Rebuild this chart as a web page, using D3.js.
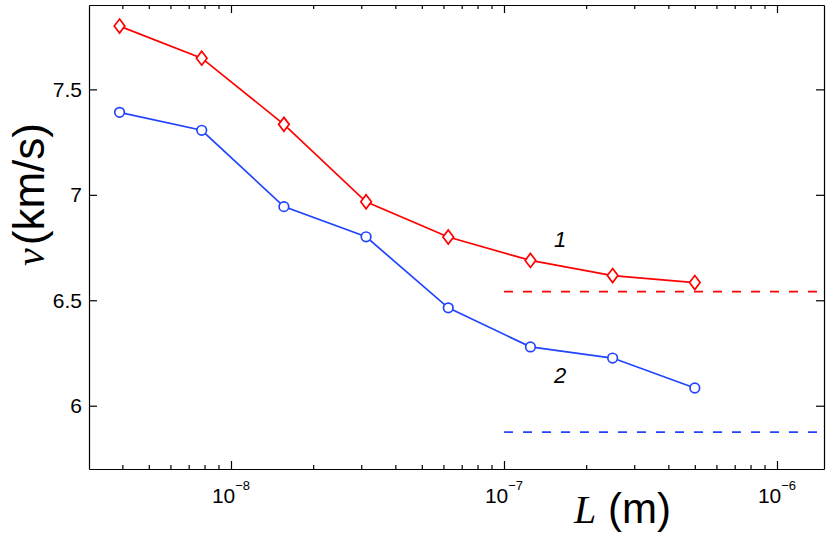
<!DOCTYPE html>
<html>
<head>
<meta charset="utf-8">
<script src="https://cdn.jsdelivr.net/npm/d3@7"></script>
<style>
body { margin: 0; background: #fff; }
text { font-family: "Liberation Sans", Arial, sans-serif; }
.axis path, .axis line { stroke: #000; stroke-width: 1.2; }
</style>
</head>
<body>
<div id="chart"></div>
<script>
const width = 830
const height = 541
const margin = {top: 5, bottom: 72, left: 89, right: 6}

// data
const lengths = [3.90625e-9, 7.8125e-9, 1.5625e-8, 3.125e-8, 6.25e-8, 1.25e-7, 2.5e-7, 5e-7]
const speed1 = [7.80, 7.648, 7.334, 6.967, 6.800, 6.689, 6.617, 6.584]
const speed2 = [7.391, 7.306, 6.944, 6.801, 6.464, 6.279, 6.226, 6.084]
const limits = [6.541, 5.875]
const limitStart = 1e-7
const yTicks = [6, 6.5, 7, 7.5]
const xTicks = [1e-8, 1e-7, 1e-6]
const xExponents = ["−8", "−7", "−6"]
const curveLabels = ["1", "2"]

const colors = ["#ff0000", "#2244ff"]

const svg = d3.select("#chart").append("svg").attr("width", width).attr("height", height)

const innerW = width - margin.left - margin.right
const innerH = height - margin.top - margin.bottom

let x = d3.scaleLog().domain([Math.pow(10, -8.5201), Math.pow(10, -5.8278)]).range([0, innerW])
let y = d3.scaleLinear().domain([5.7, 7.9]).range([innerH, 0])

const plot = svg.append("g").attr("transform", `translate(${margin.left}, ${margin.top})`)

// minor ticks on log axis
let minorTicks = []
for (let e = -9; e <= -6; e++) {
    for (let m = 2; m <= 9; m++) {
        let v = m * Math.pow(10, e)
        if (v > x.domain()[0] && v < x.domain()[1]) minorTicks.push(v)
    }
}

// bottom + top axes
const xAxisGroup = plot.append("g").attr("class", "axis").attr("transform", `translate(0, ${innerH})`)
xAxisGroup.call(d3.axisBottom(x).tickValues(xTicks).tickSizeInner(-8).tickSizeOuter(0).tickFormat(""))
xAxisGroup.append("g").call(d3.axisBottom(x).tickValues(minorTicks).tickSizeInner(-4).tickSizeOuter(0).tickFormat(""))
    .select(".domain").remove()

const topGroup = plot.append("g").attr("class", "axis")
topGroup.call(d3.axisTop(x).tickValues(xTicks).tickSizeInner(-8).tickSizeOuter(0).tickFormat(""))
topGroup.append("g").call(d3.axisTop(x).tickValues(minorTicks).tickSizeInner(-4).tickSizeOuter(0).tickFormat(""))
    .select(".domain").remove()

// x tick labels with superscripts
xTicks.forEach((t, i) => {
    let label = xAxisGroup.append("text")
        .attr("x", x(t))
        .attr("y", 34)
        .attr("text-anchor", "middle")
        .attr("fill", "#000")
        .attr("font-size", 21)
    label.append("tspan").text("10")
    label.append("tspan").attr("dy", -13).attr("font-size", 13).text(xExponents[i])
})

// left + right axes
const yAxisGroup = plot.append("g").attr("class", "axis")
yAxisGroup.call(d3.axisLeft(y).tickValues(yTicks).tickSizeInner(-8).tickSizeOuter(0).tickPadding(7).tickFormat(d => d))
yAxisGroup.selectAll("text").attr("font-size", 21).attr("fill", "#000")

const rightGroup = plot.append("g").attr("class", "axis").attr("transform", `translate(${innerW}, 0)`)
rightGroup.call(d3.axisRight(y).tickValues(yTicks).tickSizeInner(-8).tickSizeOuter(0).tickFormat(""))

// asymptote lines
limits.forEach((v, i) => {
    plot.append("line")
        .attr("x1", x(limitStart)).attr("x2", innerW)
        .attr("y1", y(v)).attr("y2", y(v))
        .attr("stroke", colors[i])
        .attr("stroke-width", 1.7)
        .attr("stroke-dasharray", "9,10")
})

// curves
const line = d3.line().x(d => x(d[0])).y(d => y(d[1]))
const series = [speed1, speed2]
series.forEach((s, i) => {
    let pts = lengths.map((l, j) => [l, s[j]])
    plot.append("path")
        .datum(pts)
        .attr("d", line)
        .attr("fill", "none")
        .attr("stroke", colors[i])
        .attr("stroke-width", 1.7)

    let marks = plot.append("g").selectAll("g").data(pts).enter()
    if (i == 0) {
        marks.append("path")
            .attr("transform", d => `translate(${x(d[0])}, ${y(d[1])})`)
            .attr("d", "M0,-7L5.3,0L0,7L-5.3,0Z")
            .attr("fill", "#fff")
            .attr("stroke", colors[i])
            .attr("stroke-width", 1.7)
    } else {
        marks.append("circle")
            .attr("cx", d => x(d[0]))
            .attr("cy", d => y(d[1]))
            .attr("r", 4.8)
            .attr("fill", "#fff")
            .attr("stroke", colors[i])
            .attr("stroke-width", 1.7)
    }
})

// curve numbers
svg.append("text").attr("x", 560).attr("y", 246.5).attr("text-anchor", "middle")
    .attr("font-size", 22).attr("font-style", "italic").text(curveLabels[0])
svg.append("text").attr("x", 560).attr("y", 383).attr("text-anchor", "middle")
    .attr("font-size", 22).attr("font-style", "italic").text(curveLabels[1])

// axis titles
let yTitle = svg.append("text")
    .attr("transform", "translate(44, 266) rotate(-90)")
    .attr("font-size", 44)
yTitle.append("tspan").attr("font-family", "'Liberation Serif', 'Times New Roman', serif").attr("font-style", "italic").attr("font-size", 40).text("v")
yTitle.append("tspan").attr("dx", 3).text("(km/s)")

let xTitle = svg.append("text")
    .attr("x", 574).attr("y", 523)
    .attr("font-size", 42)
xTitle.append("tspan").attr("font-family", "'Liberation Serif', 'Times New Roman', serif").attr("font-style", "italic").attr("font-size", 40).text("L")
xTitle.append("tspan").text(" (m)")
</script>
</body>
</html>
